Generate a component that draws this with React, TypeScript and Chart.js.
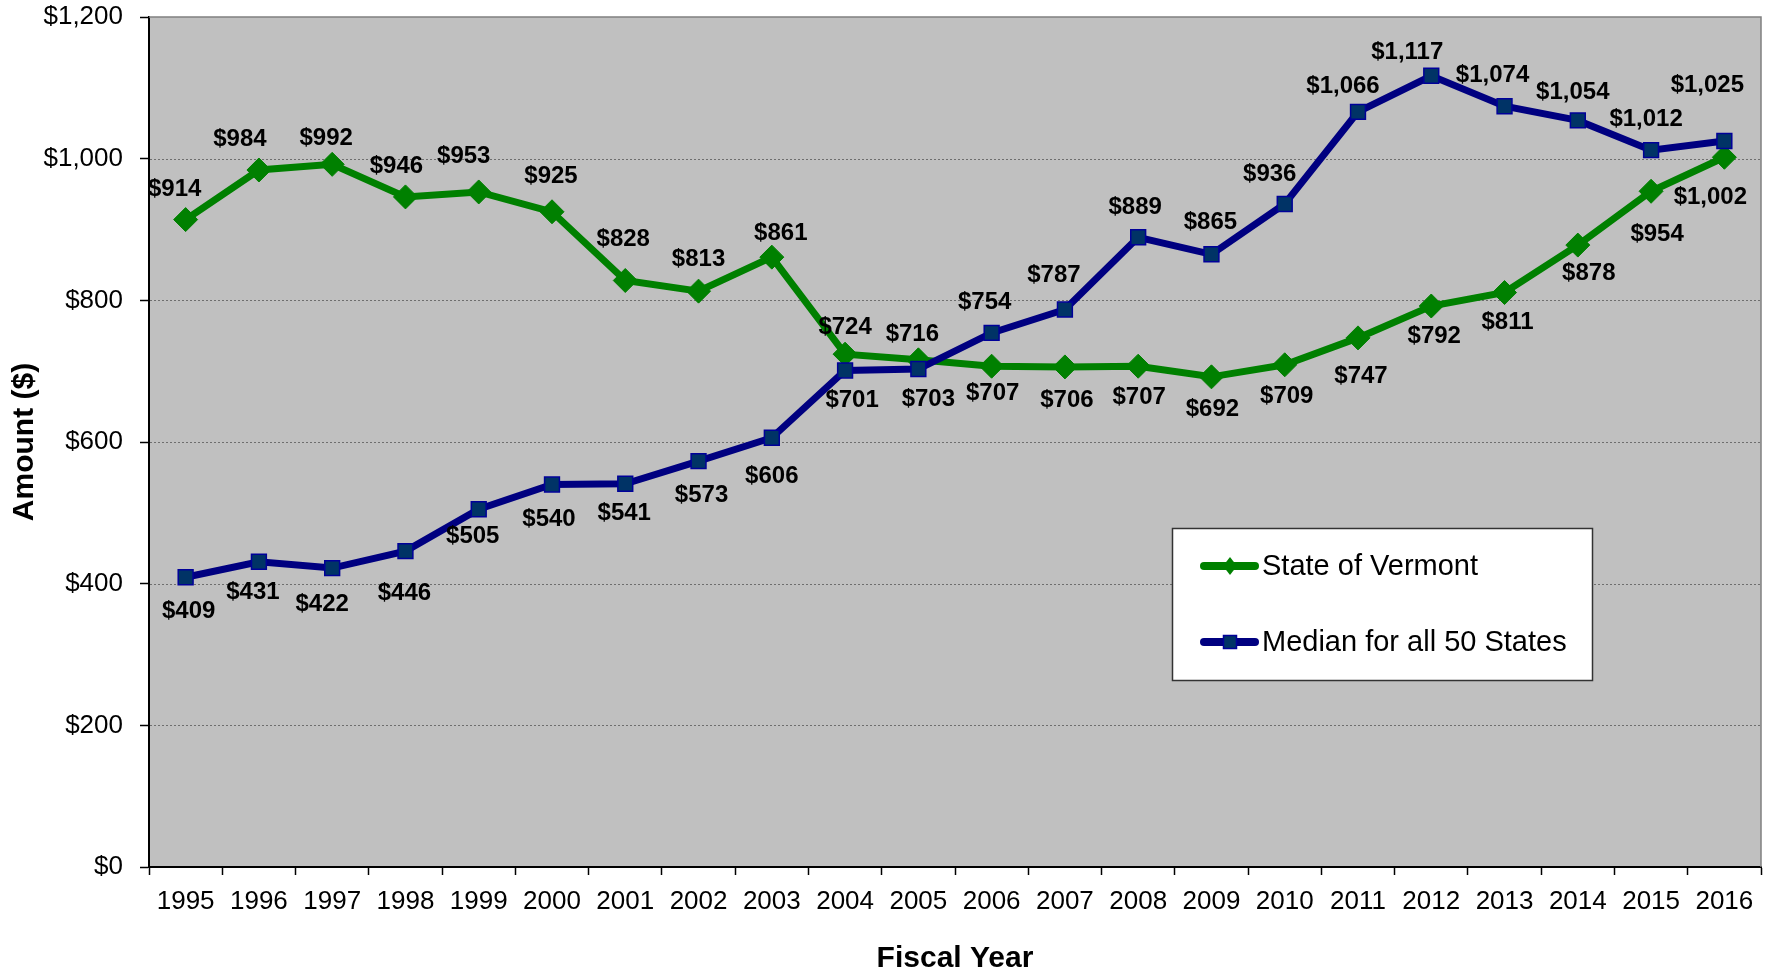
import React, { useEffect, useRef } from 'react';
import { Chart, registerables } from 'chart.js';

Chart.register(...registerables);

const years = ['1995', '1996', '1997', '1998', '1999', '2000', '2001', '2002', '2003', '2004', '2005', '2006', '2007', '2008', '2009', '2010', '2011', '2012', '2013', '2014', '2015', '2016'];
const vermont = [914, 984, 992, 946, 953, 925, 828, 813, 861, 724, 716, 707, 706, 707, 692, 709, 747, 792, 811, 878, 954, 1002];
const median = [409, 431, 422, 446, 505, 540, 541, 573, 606, 701, 703, 754, 787, 889, 865, 936, 1066, 1117, 1074, 1054, 1012, 1025];
const yTickValues = [0, 200, 400, 600, 800, 1000, 1200];
const seriesNames = ['State of Vermont', 'Median for all 50 States'];

// label placement offsets (px) relative to each point
const vermontLabelDx = [-11, -19, -6, -9, -15, -1, -2, 0, 9, 0, -6, 1, 2, 1, 1, 2, 3, 3, 3, 11, 6, -14];
const vermontLabelDy = [-30, -31, -26, -31, -36, -35, -41, -32, -24, -27, -25, 27, 33, 31, 33, 32, 38, 30, 30, 28, 43, 40];
const medianLabelDx = [3, -6, -10, -1, -6, -3, -1, 3, 0, 7, 10, -7, -11, -3, -1, -15, -15, -24, -12, -5, -5, -17];
const medianLabelDy = [34, 31, 36, 42, 27, 35, 30, 34, 39, 30, 30, -31, -34, -30, -32, -30, -26, -23, -31, -28, -31, -56];

const FONT = "'Liberation Sans', Arial, Helvetica, sans-serif";
const GREEN = '#008000';
const NAVY = '#000080';
const SQUARE_FILL = '#003366';

const fmt = (v: number) => '$' + String(Math.round(v)).replace(/\B(?=(\d{3})+(?!\d))/g, ',');

const backgroundPlugin = {
  id: 'plotBg',
  beforeDraw(chart: any) {
    const { ctx, chartArea } = chart;
    ctx.save();
    ctx.fillStyle = '#ffffff';
    ctx.fillRect(0, 0, chart.width, chart.height);
    ctx.fillStyle = '#C0C0C0';
    ctx.fillRect(chartArea.left, chartArea.top, chartArea.right - chartArea.left, chartArea.bottom - chartArea.top);
    ctx.restore();
  },
  beforeDatasetsDraw(chart: any) {
    const { ctx, chartArea, scales } = chart;
    ctx.save();
    ctx.strokeStyle = '#6e6e6e';
    ctx.lineWidth = 1;
    ctx.setLineDash([2, 2]);
    yTickValues.forEach((v) => {
      if (v === 0 || v === 1200) return;
      const y = Math.round(scales.y.getPixelForValue(v)) + 0.5;
      ctx.beginPath();
      ctx.moveTo(chartArea.left + 1, y);
      ctx.lineTo(chartArea.right, y);
      ctx.stroke();
    });
    ctx.setLineDash([]);
    ctx.strokeStyle = '#808080';
    ctx.lineWidth = 1.5;
    ctx.beginPath();
    ctx.moveTo(chartArea.left, chartArea.top);
    ctx.lineTo(chartArea.right, chartArea.top);
    ctx.lineTo(chartArea.right, chartArea.bottom);
    ctx.stroke();
    ctx.restore();
  },
};

const labelsPlugin = {
  id: 'pointLabels',
  afterDatasetsDraw(chart: any) {
    const { ctx } = chart;
    const offsets = [
      [vermontLabelDx, vermontLabelDy],
      [medianLabelDx, medianLabelDy],
    ];
    ctx.save();
    ctx.font = `bold 24px ${FONT}`;
    ctx.fillStyle = '#000';
    ctx.textAlign = 'center';
    ctx.textBaseline = 'middle';
    chart.data.datasets.forEach((ds: any, i: number) => {
      const meta = chart.getDatasetMeta(i);
      meta.data.forEach((el: any, j: number) => {
        const [dx, dy] = offsets[i];
        ctx.fillText(fmt(ds.data[j]), el.x + dx[j], el.y + dy[j]);
      });
    });
    ctx.restore();
  },
};

const legendPlugin = {
  id: 'boxLegend',
  afterDraw(chart: any) {
    const { ctx } = chart;
    const bx = 1172.5, by = 528.5, bw = 420, bh = 152;
    ctx.save();
    ctx.fillStyle = '#ffffff';
    ctx.fillRect(bx, by, bw, bh);
    ctx.strokeStyle = '#333333';
    ctx.lineWidth = 1.5;
    ctx.strokeRect(bx, by, bw, bh);

    const rows = [566, 642];
    const colors = [GREEN, NAVY];
    rows.forEach((y, i) => {
      ctx.strokeStyle = colors[i];
      ctx.lineWidth = 8;
      ctx.lineCap = 'round';
      ctx.beginPath();
      ctx.moveTo(1204, y);
      ctx.lineTo(1255, y);
      ctx.stroke();
      if (i === 0) {
        ctx.fillStyle = GREEN;
        ctx.beginPath();
        ctx.moveTo(1230, y - 9);
        ctx.lineTo(1237, y);
        ctx.lineTo(1230, y + 9);
        ctx.lineTo(1223, y);
        ctx.closePath();
        ctx.fill();
      } else {
        ctx.fillStyle = SQUARE_FILL;
        ctx.fillRect(1223.5, y - 6.5, 13, 13);
        ctx.strokeStyle = '#000099';
        ctx.lineWidth = 1.5;
        ctx.strokeRect(1223.5, y - 6.5, 13, 13);
      }
      ctx.fillStyle = '#000';
      ctx.font = `29px ${FONT}`;
      ctx.textAlign = 'left';
      ctx.textBaseline = 'middle';
      ctx.fillText(seriesNames[i], 1262, y + 1);
    });
    ctx.restore();
  },
};

export default function App() {
  const canvasRef = useRef<HTMLCanvasElement | null>(null);

  useEffect(() => {
    document.body.style.margin = '0';
    const canvas = canvasRef.current;
    if (!canvas) return;
    const chart = new Chart(canvas, {
      type: 'line',
      data: {
        labels: years,
        datasets: [
          {
            label: seriesNames[0],
            data: vermont,
            borderColor: GREEN,
            backgroundColor: GREEN,
            borderWidth: 7,
            tension: 0,
            pointStyle: 'rectRot',
            pointRadius: 12,
            pointBackgroundColor: GREEN,
            pointBorderColor: GREEN,
            pointBorderWidth: 1,
            order: 2,
          },
          {
            label: seriesNames[1],
            data: median,
            borderColor: NAVY,
            backgroundColor: NAVY,
            borderWidth: 7,
            tension: 0,
            pointStyle: 'rect',
            pointRadius: 10.5,
            pointBackgroundColor: SQUARE_FILL,
            pointBorderColor: '#000099',
            pointBorderWidth: 1.5,
            order: 1,
          },
        ],
      },
      options: {
        animation: false,
        responsive: true,
        maintainAspectRatio: false,
        layout: { padding: { top: 17, right: 12, left: 0, bottom: 0 } },
        plugins: {
          legend: { display: false },
          tooltip: { enabled: false },
        },
        scales: {
          x: {
            type: 'category',
            offset: true,
            grid: {
              offset: true,
              drawOnChartArea: false,
              drawTicks: true,
              tickLength: 8,
              tickColor: '#000',
              tickWidth: 1.5,
            },
            border: { display: true, color: '#000', width: 2 },
            ticks: {
              color: '#000',
              font: { family: FONT, size: 26 },
              padding: 11,
              maxRotation: 0,
              autoSkip: false,
            },
            title: {
              display: true,
              text: 'Fiscal Year',
              color: '#000',
              font: { family: FONT, size: 30, weight: 'bold' },
              padding: { top: 0, bottom: -3 },
            },
            afterFit: (s: any) => {
              s.height = 107;
              s.paddingLeft = 0;
              s.paddingRight = 0;
            },
          },
          y: {
            min: 0,
            max: 1200,
            afterBuildTicks: (s: any) => {
              s.ticks = yTickValues.map((v) => ({ value: v }));
            },
            grid: {
              drawOnChartArea: false,
              drawTicks: true,
              tickLength: 9,
              tickColor: '#000',
              tickWidth: 1.5,
            },
            border: { display: true, color: '#000', width: 2 },
            ticks: {
              color: '#000',
              font: { family: FONT, size: 26 },
              padding: 17,
              callback: (v: any) => fmt(Number(v)),
            },
            title: {
              display: true,
              text: 'Amount ($)',
              color: '#000',
              font: { family: FONT, size: 30, weight: 'bold' },
              padding: { top: 7, bottom: 0 },
            },
            afterFit: (s: any) => {
              s.width = 149;
              s.paddingTop = 0;
              s.paddingBottom = 0;
            },
          },
        },
      } as any,
      plugins: [backgroundPlugin, labelsPlugin, legendPlugin],
    });
    return () => chart.destroy();
  }, []);

  return (
    <div style={{ position: 'fixed', left: 0, top: 0, width: 1774, height: 974, background: '#fff' }}>
      <canvas ref={canvasRef} />
    </div>
  );
}
